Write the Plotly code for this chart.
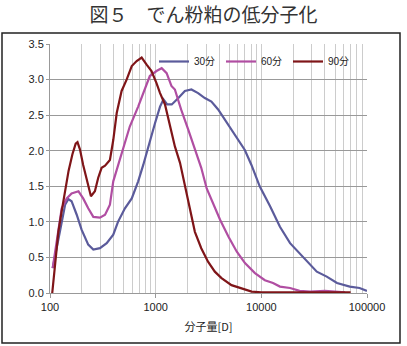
import plotly.graph_objects as go

# ---- data ----
x30 = [106, 111, 124, 139, 149, 160, 179, 199, 230, 257, 297, 344, 397, 440, 512, 594, 683, 763,
       852, 987, 1100, 1185, 1285, 1420, 1640, 1890, 2180, 2520, 2920, 3370, 3900, 4500, 5220,
       6030, 6980, 8060, 9650, 12100, 15000, 18700, 24700, 33500, 41600, 52000, 68700, 85000, 100000]
y30 = [0.35, 0.49, 0.86, 1.24, 1.32, 1.29, 1.10, 0.89, 0.68, 0.61, 0.63, 0.70, 0.82, 1.00, 1.19,
       1.33, 1.57, 1.80, 2.06, 2.39, 2.62, 2.72, 2.65, 2.65, 2.74, 2.84, 2.86, 2.81, 2.74, 2.69,
       2.58, 2.44, 2.30, 2.15, 2.01, 1.80, 1.50, 1.22, 0.93, 0.70, 0.51, 0.30, 0.23, 0.14, 0.09,
       0.07, 0.03]

x60 = [106, 111, 120, 129, 144, 160, 186, 206, 230, 257, 297, 332, 369, 397, 428, 495, 569, 683,
       790, 880, 1018, 1140, 1270, 1410, 1520, 1740, 2030, 2350, 2700, 3040, 3520, 4070, 4890,
       5860, 7000, 8700, 10800, 12900, 15000, 18700, 23000, 29000, 40000, 55000, 62000]
y60 = [0.35, 0.55, 0.90, 1.19, 1.33, 1.40, 1.43, 1.33, 1.19, 1.07, 1.06, 1.10, 1.24, 1.57, 1.73,
       2.06, 2.34, 2.62, 2.86, 3.05, 3.12, 3.16, 3.09, 2.91, 2.86, 2.58, 2.30, 2.01, 1.76, 1.47,
       1.24, 1.03, 0.79, 0.58, 0.42, 0.28, 0.18, 0.14, 0.09, 0.07, 0.03, 0.02, 0.03, 0.02, 0.01]

x90 = [105, 112, 120, 129, 139, 150, 163, 175, 182, 192, 206, 222, 244, 266, 286, 308, 332, 369,
       397, 428, 476, 531, 594, 661, 737, 821, 913, 1018, 1100, 1225, 1370, 1520, 1700, 1890,
       2110, 2350, 2700, 3130, 3630, 4200, 5220, 6500, 8100, 10000, 15000, 25000, 40000, 70000]
y90 = [0.0, 0.45, 0.86, 1.15, 1.43, 1.72, 1.95, 2.10, 2.12, 2.02, 1.80, 1.62, 1.36, 1.43, 1.62,
       1.76, 1.79, 1.87, 2.15, 2.53, 2.84, 3.00, 3.19, 3.26, 3.31, 3.21, 3.12, 2.95, 2.81, 2.65,
       2.34, 2.06, 1.83, 1.52, 1.15, 0.86, 0.63, 0.44, 0.30, 0.21, 0.11, 0.06, 0.02, 0.01, 0.01,
       0.01, 0.01, 0.01]

series = [("30分", x30, y30, "#5b5b9b"),
          ("60分", x60, y60, "#b04ea2"),
          ("90分", x90, y90, "#7f1518")]

yticks = [0.0, 0.5, 1.0, 1.5, 2.0, 2.5, 3.0, 3.5]
xticks = [100, 1000, 10000, 100000]

fig = go.Figure()
for name, xs, ys, col in series:
    fig.add_trace(go.Scatter(x=xs, y=ys, mode="lines", name=name,
                             line=dict(color=col, width=2.2)))

W, H = 407, 346
ml, mr, mt, mb = 50, 40, 44, 53
pw, ph = W - ml - mr, H - mt - mb

def px_x(p):
    return (p - ml) / pw

def px_y(p):
    return (H - mb - p) / ph

fig.update_layout(
    width=W, height=H,
    margin=dict(l=ml, r=mr, t=mt, b=mb),
    paper_bgcolor="white", plot_bgcolor="white",
    font=dict(family="Liberation Sans, Arial, Noto Sans CJK JP", size=11, color="#222"),
    title=dict(text="図５　でん粉粕の低分子化", x=0.5, xanchor="center",
               y=1 - 15 / H, yanchor="middle", yref="container",
               font=dict(family="Noto Sans CJK JP", size=19, color="#333")),
    showlegend=True,
    legend=dict(orientation="h", x=px_x(154), y=px_y(47), xanchor="left", yanchor="top",
                bgcolor="rgba(0,0,0,0)", borderwidth=0, entrywidth=22, entrywidthmode="pixels",
                font=dict(family="Liberation Sans, Noto Sans CJK JP", size=10, color="#222"),
                itemclick=False),
    xaxis=dict(type="log", range=[2, 5], tickvals=xticks, ticktext=[str(v) for v in xticks],
               showgrid=True, gridcolor="#cccccc", gridwidth=1,
               minor=dict(dtick="D1", showgrid=True, gridcolor="#cccccc", gridwidth=1, ticks=""),
               showline=True, linecolor="#999999", linewidth=1,
               ticks="outside", ticklen=4, tickcolor="#999999",
               zeroline=False,
               title=dict(text="分子量[D]", standoff=11,
                          font=dict(family="Noto Sans CJK JP", size=11, color="#222"))),
    yaxis=dict(range=[0, 3.5], tickvals=yticks, ticktext=[f"{v:.1f}" for v in yticks],
               showgrid=True, gridcolor="#999999", gridwidth=1,
               showline=True, linecolor="#999999", linewidth=1,
               ticks="outside", ticklen=3, tickcolor="#999999",
               zeroline=False),
    shapes=[dict(type="rect", xref="paper", yref="paper",
                 x0=px_x(2), x1=px_x(400), y0=px_y(343), y1=px_y(33),
                 line=dict(color="#222222", width=1.5), fillcolor="rgba(0,0,0,0)",
                 layer="below"),
            dict(type="rect", xref="paper", yref="paper",
                 x0=px_x(157), x1=px_x(345), y0=px_y(66), y1=px_y(48),
                 line=dict(width=0), fillcolor="white", layer="between")],
)

fig.write_html("out.html")
